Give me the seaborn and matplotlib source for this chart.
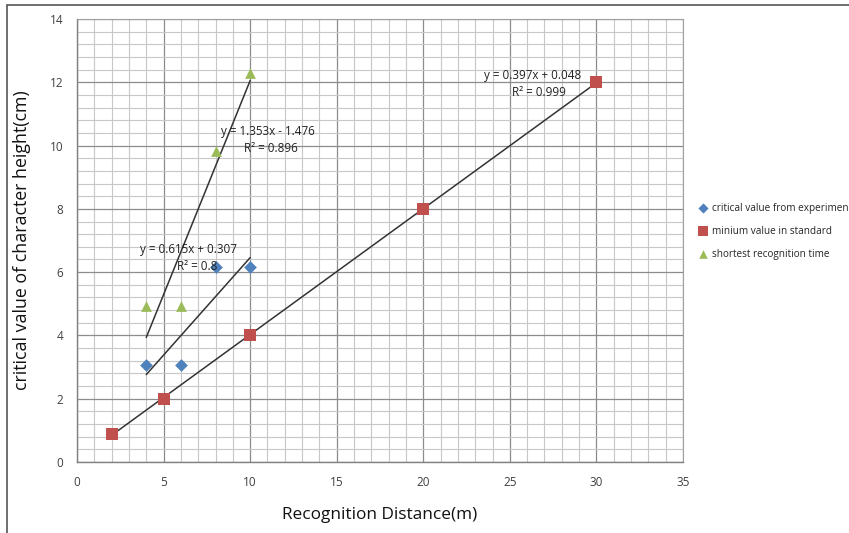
import matplotlib
matplotlib.use("Agg")
import matplotlib.pyplot as plt
import seaborn as sns
import numpy as np
import pandas as pd
from matplotlib.ticker import MultipleLocator
from matplotlib.patches import Rectangle

sns.set_style("white")
plt.rcParams['font.family'] = ['Open Sans', 'DejaVu Sans']

# data
exp_x = [4, 6, 8, 10]
exp_y = [3.07, 3.07, 6.15, 6.15]
std_x = [2, 5, 10, 20, 30]
std_y = [0.9, 2, 4, 8, 12]
short_x = [4, 6, 8, 10]
short_y = [4.92, 4.92, 9.84, 12.3]

series_names = ["critical value from experimen", "minium value in standard", "shortest recognition time"]
equations = ["y = 0.615x + 0.307", "y = 0.397x + 0.048", "y = 1.353x - 1.476"]
r2_labels = ["R² = 0.8", "R² = 0.999", "R² = 0.896"]

colors = ["#4F81BD", "#C0504D", "#9BBB59"]
markers = ["D", "s", "^"]
msizes = [42, 75, 60]

fig = plt.figure(figsize=(8.49, 5.33), dpi=100)
ax = fig.add_axes([77/849, 1-462/533, (683-77)/849, (462-19)/533])

datasets = [(exp_x, exp_y), (std_x, std_y), (short_x, short_y)]
for (xs, ys), c, m, s, name in zip(datasets, colors, markers, msizes, series_names):
    df = pd.DataFrame({"x": xs, "y": ys})
    sns.regplot(data=df, x="x", y="y", ax=ax, scatter=False, ci=None, truncate=True,
                line_kws=dict(color="#333333", lw=1.1, zorder=3))
    sns.scatterplot(data=df, x="x", y="y", ax=ax, marker=m, s=s, color=c,
                    edgecolor=c, linewidth=0, zorder=4, label=name)

ax.set_xlim(0, 35)
ax.set_ylim(0, 14)
ax.xaxis.set_major_locator(MultipleLocator(5))
ax.xaxis.set_minor_locator(MultipleLocator(1))
ax.yaxis.set_major_locator(MultipleLocator(2))
ax.yaxis.set_minor_locator(MultipleLocator(0.4))
ax.grid(which="major", color="#8c8c8c", lw=0.9, zorder=0)
ax.grid(which="minor", color="#c8c8c8", lw=0.8, zorder=0)
ax.set_axisbelow(True)
for side in ["top", "right"]:
    ax.spines[side].set_color("#a0a0a0")
    ax.spines[side].set_linewidth(0.8)
for side in ["left", "bottom"]:
    ax.spines[side].set_color("#808080")
    ax.spines[side].set_linewidth(1.0)
ax.tick_params(axis="both", which="major", length=4, width=0.9, color="#808080",
               labelsize=8.5, labelcolor="#404040", direction="out", pad=6)
ax.tick_params(which="minor", length=0)
ax.set_xlabel("Recognition Distance(m)", fontsize=12.4, labelpad=13, color="#111111")
ax.set_ylabel("critical value of character height(cm)", fontsize=12.8, labelpad=13, color="#111111")

# trendline labels
txt_kw = dict(fontsize=8.4, color="#222222", ha="center", va="center", zorder=5)
ax.text(6.41, 6.73, equations[0], **txt_kw)
ax.text(6.93, 6.19, r2_labels[0], **txt_kw)
ax.text(26.34, 12.23, equations[1], **txt_kw)
ax.text(26.7, 11.69, r2_labels[1], **txt_kw)
ax.text(11.03, 10.43, equations[2], **txt_kw)
ax.text(11.2, 9.92, r2_labels[2], **txt_kw)

ax.legend(loc="upper left", bbox_to_anchor=(688/849, 1-194/533), bbox_transform=fig.transFigure,
          frameon=False, fontsize=7.2, handletextpad=0.35, labelspacing=1.2, markerscale=0.8,
          handlelength=1.2)

# outer frame
fig.add_artist(Rectangle((7/849, -0.01), 1.0, 1-5/533 + 0.01, transform=fig.transFigure,
                         fill=False, edgecolor="#555555", lw=1.2))

fig.savefig("out.png", dpi=100)
